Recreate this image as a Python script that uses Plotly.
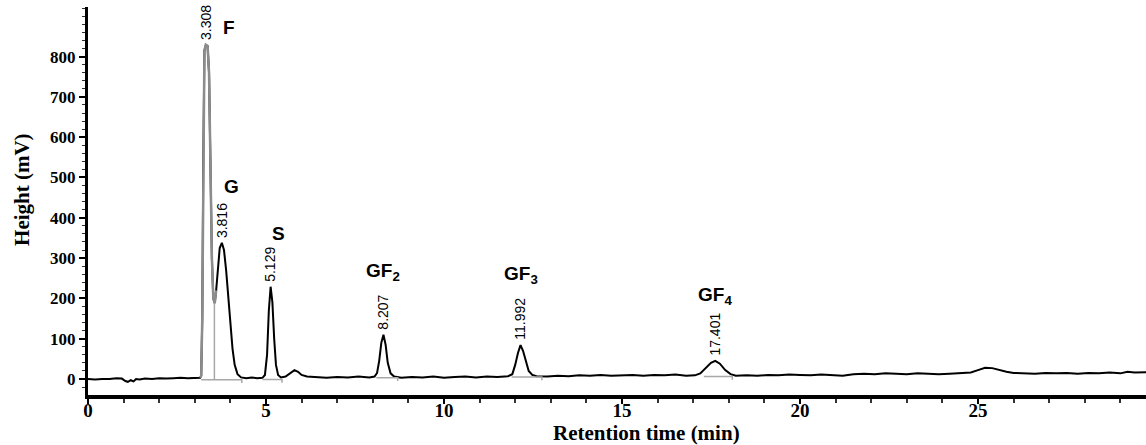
import numpy as np
import plotly.graph_objects as go

# ---- chromatogram trace (time in min, height in mV) ----
time_min = [0, 0.2, 0.4, 0.6, 0.8, 0.95, 1.05, 1.12, 1.2, 1.28, 1.35, 1.45, 1.6, 1.8, 2.0, 2.2, 2.4, 2.6, 2.8, 3.0, 3.15,
            3.18, 3.21, 3.24, 3.27, 3.31, 3.36, 3.40, 3.44, 3.48, 3.52, 3.56,
            3.60, 3.65, 3.70, 3.76, 3.82, 3.88, 3.94, 4.0, 4.06, 4.12, 4.2, 4.3, 4.45, 4.6, 4.75, 4.9,
            4.97, 5.03, 5.08, 5.13, 5.18, 5.23, 5.28, 5.34, 5.42, 5.55, 5.68, 5.8, 5.9, 6.0, 6.15, 6.4, 6.7, 7.0, 7.3, 7.6, 7.9, 8.05,
            8.12, 8.18, 8.24, 8.3, 8.36, 8.42, 8.5, 8.6, 8.8, 9.1, 9.4, 9.7, 10.0, 10.3, 10.6, 10.9, 11.2, 11.5, 11.8,
            11.92, 12.0, 12.08, 12.15, 12.22, 12.3, 12.38, 12.48, 12.6, 12.9, 13.2, 13.5, 13.8, 14.1, 14.4, 14.7, 15.0, 15.3, 15.6,
            15.9, 16.2, 16.5, 16.8, 17.05,
            17.2, 17.35, 17.5, 17.62, 17.75, 17.9, 18.05, 18.2, 18.5, 18.8, 19.1, 19.4, 19.7, 20.0, 20.3, 20.6, 20.9, 21.2, 21.5,
            21.8, 22.1, 22.4, 22.7, 23.0, 23.3, 23.6, 23.9, 24.2, 24.5, 24.8, 25.0, 25.2, 25.4, 25.6, 25.8, 26.0, 26.3, 26.6, 26.9,
            27.2, 27.5, 27.8, 28.1, 28.4, 28.7, 29.0, 29.2, 29.4, 29.73]
height_mv = [0, -1, 0, 0, 2, 1, -5, -7, -3, -6, 0, -1, 1, 0, 2, 1, 2, 3, 2, 3, 3,
             8, 150, 550, 815, 829, 826, 760, 520, 300, 200, 188,
             220, 285, 325, 338, 320, 270, 200, 130, 75, 35, 12, 4, 2, 4, 2, 3,
             10, 60, 170, 229, 190, 100, 35, 10, 4, 6, 14, 22, 18, 10, 6, 5, 3, 5, 4, 6, 4, 6,
             15, 45, 90, 110, 85, 40, 14, 6, 3, 5, 4, 6, 3, 5, 6, 4, 6, 5, 7,
             12, 35, 65, 84, 70, 42, 20, 10, 7, 6, 8, 7, 9, 8, 10, 8, 9, 10, 8,
             10, 9, 11, 8, 9,
             14, 28, 40, 45, 38, 22, 12, 8, 9, 8, 10, 9, 11, 10, 9, 11, 10, 8, 12,
             13, 12, 14, 13, 12, 14, 13, 12, 13, 14, 16, 22, 28, 27, 22, 18, 15, 14, 13, 15,
             14, 15, 13, 15, 14, 16, 14, 18, 16, 17]

# integration baselines drawn under the peaks
baseline_start = [3.18, 4.90, 8.10, 11.90, 17.30]
baseline_end = [4.32, 5.45, 8.70, 12.75, 18.10]
baseline_level = [-2, -1, 3, 5, 6]
valley_drop_x = [3.55]
valley_drop_top = [188]

# peak annotations
peak_names = ["F", "G", "S", "GF<sub>2</sub>", "GF<sub>3</sub>", "GF<sub>4</sub>"]
peak_rt_labels = ["3.308", "3.816", "5.129", "8.207", "11.992", "17.401"]
peak_x = [3.33, 3.76, 5.13, 8.30, 12.15, 17.62]
peak_h = [829, 338, 229, 110, 84, 45]
name_dx = [22, 10, 8, 0, 0, 0]      # pixel offsets of the letter labels
name_dy = [17, 56, 53, 63, 70, 65]

x_ticks = [0, 5, 10, 15, 20, 25]
y_ticks = [0, 100, 200, 300, 400, 500, 600, 700, 800]

t = np.array(time_min)
h = np.array(height_mv)
gray_mask = (t >= 3.15) & (t <= 3.60)

fig = go.Figure()
fig.add_trace(go.Scatter(x=t, y=h, mode="lines", line=dict(color="black", width=2), hoverinfo="skip"))
fig.add_trace(go.Scatter(x=t[gray_mask], y=h[gray_mask], mode="lines",
                         line=dict(color="#8c8c8c", width=2.5), hoverinfo="skip"))
for xs, xe, lv in zip(baseline_start, baseline_end, baseline_level):
    fig.add_trace(go.Scatter(x=[xs, xe, xe], y=[lv, lv, lv - 8], mode="lines",
                             line=dict(color="#a8a8a8", width=1.5), hoverinfo="skip"))
for vx, vt in zip(valley_drop_x, valley_drop_top):
    fig.add_trace(go.Scatter(x=[vx, vx], y=[-2, vt], mode="lines",
                             line=dict(color="#a8a8a8", width=1.5), hoverinfo="skip"))

annotations = []
for nm, rt, px, ph, dx, dy in zip(peak_names, peak_rt_labels, peak_x, peak_h, name_dx, name_dy):
    annotations.append(dict(x=px, y=ph, xref="x", yref="y", text=rt, showarrow=False,
                            textangle=-90, xanchor="center", yanchor="bottom", yshift=3,
                            font=dict(family="Liberation Sans", size=14, color="black")))
    annotations.append(dict(x=px, y=ph, xref="x", yref="y", text="<b>" + nm + "</b>", showarrow=False,
                            xanchor="center", yanchor="middle", xshift=dx, yshift=dy,
                            font=dict(family="Liberation Sans", size=19, color="black")))

annotations.append(dict(x=0.528, y=0, xref="paper", yref="paper", text="<b>Retention time (min)</b>",
                        showarrow=False, xanchor="center", yanchor="middle", yshift=-38,
                        font=dict(family="Liberation Serif", size=21, color="black")))
annotations.append(dict(x=-0.0624, y=0.531, xref="paper", yref="paper", text="<b>Height (mV)</b>",
                        showarrow=False, xanchor="center", yanchor="middle", textangle=-90,
                        font=dict(family="Liberation Serif", size=21, color="black")))

fig.update_layout(
    width=1146, height=445,
    margin=dict(l=88, r=0, t=7, b=50),
    paper_bgcolor="white", plot_bgcolor="white",
    showlegend=False,
    annotations=annotations,
    xaxis=dict(range=[0, 29.72], tickvals=x_ticks, showline=True, linecolor="black", linewidth=4,
               ticks="outside", ticklen=5, tickwidth=2, tickcolor="black", ticklabelstandoff=-10,
               minor=dict(dtick=1, tick0=0, ticks="outside", ticklen=4, tickwidth=2, tickcolor="#333"),
               showgrid=False, zeroline=False,
               tickfont=dict(family="Liberation Serif", size=19, color="black", weight="bold")),
    yaxis=dict(range=[-39.7, 923], tickvals=y_ticks, showline=True, linecolor="black", linewidth=3,
               ticks="outside", ticklen=6, tickwidth=2, tickcolor="black",
               minor=dict(dtick=20, tick0=0, ticks="outside", ticklen=3, tickwidth=1, tickcolor="#333"),
               showgrid=False, zeroline=False,
               tickfont=dict(family="Liberation Serif", size=17, color="black", weight="bold")),
)

fig.write_html("out.html", config={"displayModeBar": False},
               post_script="document.body.style.margin='0';")
